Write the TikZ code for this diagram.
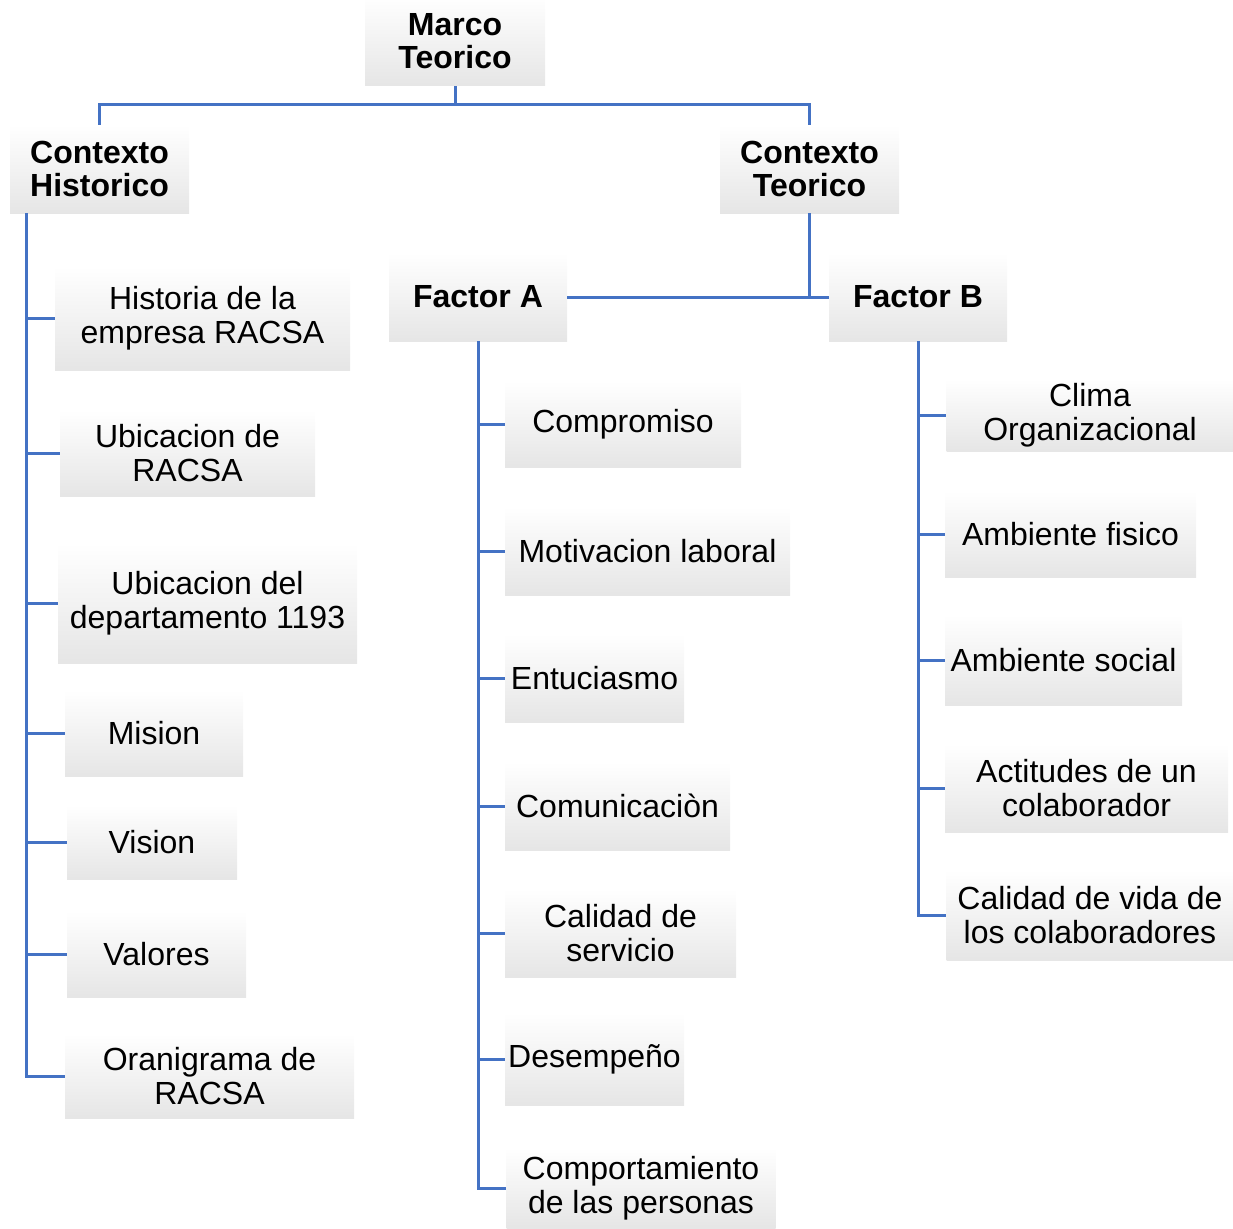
\documentclass[tikz,border=0pt]{standalone}
\usepackage{fontspec}
\setmainfont{Liberation Sans}
\definecolor{linkblue}{RGB}{68,114,196}

\begin{document}
\begin{tikzpicture}[x=1pt,y=-1pt,
  box/.style={shape=rectangle,inner sep=0pt,align=center,
    top color=white,middle color=white,bottom color=gray!20,
    font=\fontsize{32}{33.5}\selectfont},
  head/.style={box,font=\fontsize{32}{33.5}\selectfont\bfseries},
  link/.style={draw=linkblue,line width=3pt}]
\useasboundingbox (0,0) rectangle (1233,1228);

% top levels
\node[head,minimum width=180,minimum height=90] (marco) at (455,41) {Marco\\Teorico};
\node[head,minimum width=179,minimum height=88] (ctxh) at (99.5,169) {Contexto\\Historico};
\node[head,minimum width=179,minimum height=88] (ctxt) at (809.5,169) {Contexto\\Teorico};
\node[head,minimum width=178,minimum height=88] (fa) at (478,297) {Factor A};
\node[head,minimum width=178,minimum height=88] (fb) at (918,297) {Factor B};

% Contexto Historico
\node[box,minimum width=295,minimum height=104] (hist) at (202.5,318) {Historia de la\\empresa RACSA};
\node[box,minimum width=255,minimum height=86] (ubic) at (187.5,453) {Ubicacion de\\RACSA};
\node[box,minimum width=299,minimum height=120] (depto) at (207.5,603) {Ubicacion del\\departamento 1193};
\node[box,minimum width=178,minimum height=86] (mision) at (154,733) {Mision};
\node[box,minimum width=170,minimum height=74] (vision) at (152,842) {Vision};
\node[box,minimum width=179,minimum height=86] (valores) at (156.5,954) {Valores};
\node[box,minimum width=289,minimum height=84] (organ) at (209.5,1076) {Oranigrama de\\RACSA};

% Factor A
\node[box,minimum width=236,minimum height=86] (comp) at (623,424) {Compromiso};
\node[box,minimum width=285,minimum height=88] (motiv) at (647.5,551) {Motivacion laboral};
\node[box,minimum width=179,minimum height=88] (entu) at (594.5,678) {Entuciasmo};
\node[box,minimum width=225,minimum height=88] (comun) at (617.5,806) {Comunicaciòn};
\node[box,minimum width=231,minimum height=88] (calserv) at (620.5,933) {Calidad de\\servicio};
\node[box,minimum width=179,minimum height=92] (desem) at (594.5,1059) {Desempeño};
\node[box,minimum width=269,minimum height=80] (compor) at (641,1188) {Comportamiento\\de las personas};

% Factor B
\node[box,minimum width=287,minimum height=72] (clima) at (1090,415) {Clima\\Organizacional};
\node[box,minimum width=251,minimum height=86] (ambf) at (1070.5,534) {Ambiente fisico};
\node[box,minimum width=237,minimum height=90] (ambs) at (1063.5,660) {Ambiente social};
\node[box,minimum width=283,minimum height=88] (acti) at (1086.5,788) {Actitudes de un\\colaborador};
\node[box,minimum width=287,minimum height=90] (calvida) at (1090,915) {Calidad de vida de\\los colaboradores};

% connectors
\coordinate (jt) at (455,105);
\draw[link] (marco.south) -- (jt);
\draw[link] (ctxh.north) |- (jt) -| (ctxt.north);

\coordinate (hl) at ([xshift=17pt]ctxh.south west);
\foreach \n in {hist,ubic,depto,mision,vision,valores,organ}
  \draw[link] (hl) |- (\n.west);

\draw[link] (ctxt.south) -- (ctxt.south |- fa.east);
\draw[link] (fa.east) -- (fb.west);

\foreach \n in {comp,motiv,entu,comun,calserv,desem,compor}
  \draw[link] (fa.south) |- (\n.west);
\foreach \n in {clima,ambf,ambs,acti,calvida}
  \draw[link] (fb.south) |- (\n.west);
\end{tikzpicture}
\end{document}
